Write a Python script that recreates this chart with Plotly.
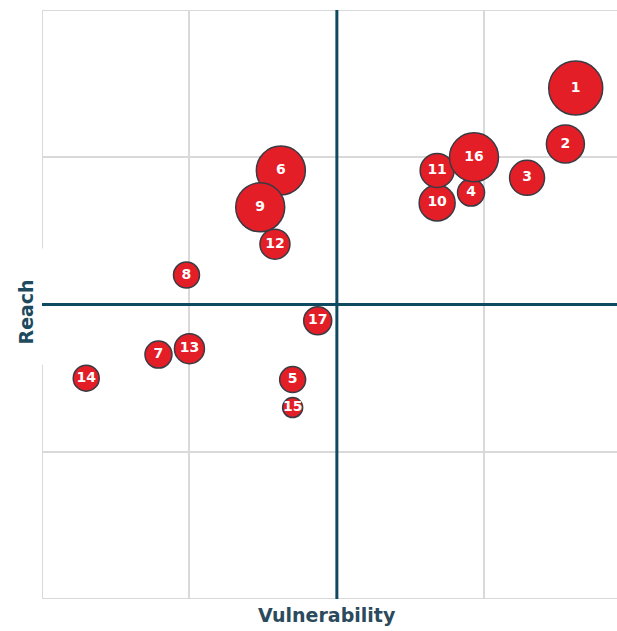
import plotly.graph_objects as go

labels = ["1", "2", "3", "4", "5", "6", "7", "8", "9", "10", "11", "12", "13", "14", "15", "16", "17"]
vulnerability = [3.62, 3.55, 3.29, 2.91, 1.70, 1.62, 0.79, 0.98, 1.48, 2.68, 2.68, 1.58, 1.00, 0.30, 1.70, 2.93, 1.87]
reach = [3.47, 3.09, 2.86, 2.76, 1.49, 2.91, 1.66, 2.20, 2.66, 2.69, 2.91, 2.41, 1.70, 1.50, 1.30, 3.00, 1.89]
bubble_size = [54, 38, 35, 27, 26, 49, 27, 26, 49, 36, 34, 30, 30, 26, 20, 49, 28]

NAVY = "#0f4a60"
GRID = "#d9d9d9"
FONT = "DejaVu Sans"

fig = go.Figure()
fig.add_trace(go.Scatter(
    x=vulnerability, y=reach, mode="markers+text", text=labels,
    textposition="middle center",
    textfont=dict(family=FONT, size=14, color="white", weight="bold"),
    marker=dict(size=bubble_size, color="#e31e26", opacity=1,
                line=dict(color="#3a3a44", width=1.5)),
    hoverinfo="skip", cliponaxis=False,
))

fig.add_shape(type="line", x0=2, x1=2, y0=0, y1=4, xref="x", yref="y",
              line=dict(color=NAVY, width=3), layer="above")
fig.add_shape(type="line", x0=0, x1=3.9, y0=2, y1=2, xref="x", yref="y",
              line=dict(color=NAVY, width=3), layer="above")

fig.update_layout(
    width=617, height=631,
    margin=dict(l=42, r=0, t=10, b=32),
    plot_bgcolor="white", paper_bgcolor="white",
    showlegend=False,
    xaxis=dict(range=[0, 3.9], tickvals=[1, 2, 3], showticklabels=False,
               showgrid=True, gridcolor=GRID, gridwidth=1.5, zeroline=False,
               showline=False, fixedrange=True),
    yaxis=dict(range=[0, 4], tickvals=[1, 2, 3], showticklabels=False,
               showgrid=True, gridcolor=GRID, gridwidth=1.5, zeroline=False,
               showline=False, fixedrange=True),
)
# borders: top, bottom, left (left interrupted by the Reach title)
fig.add_shape(type="line", x0=0, x1=3.9, y0=4, y1=4, xref="x", yref="y",
              line=dict(color=GRID, width=2), layer="below")
fig.add_shape(type="line", x0=0, x1=3.9, y0=0, y1=0, xref="x", yref="y",
              line=dict(color=GRID, width=2), layer="below")
fig.add_shape(type="line", x0=0, x1=0, y0=2.38, y1=4, xref="x", yref="y",
              line=dict(color=GRID, width=2), layer="below")
fig.add_shape(type="line", x0=0, x1=0, y0=0, y1=1.59, xref="x", yref="y",
              line=dict(color=GRID, width=2), layer="below")

fig.add_annotation(text="Vulnerability", xref="paper", yref="paper",
                   x=0.5, y=0, yshift=-16, xshift=-3, yanchor="middle", xanchor="center",
                   showarrow=False,
                   font=dict(family=FONT, size=19, color="#2b4a5c", weight="bold"))
fig.add_annotation(text="Reach", xref="paper", yref="paper",
                   x=0, y=0.5, xshift=-17, yshift=-8, xanchor="center", yanchor="middle",
                   showarrow=False, textangle=-90,
                   font=dict(family=FONT, size=19, color="#1e4a5e", weight="bold"))

fig.write_html("out.html")
